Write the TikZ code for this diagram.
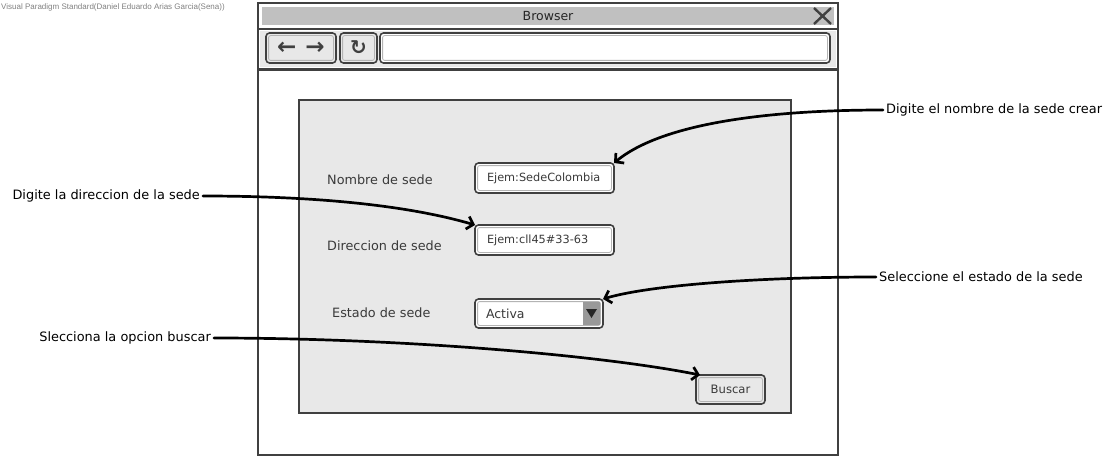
\documentclass[tikz,border=0pt]{standalone}
\usepackage{fontspec}
\setmainfont{DejaVu Sans}
\newfontfamily\wmfont{Liberation Sans}
\usetikzlibrary{positioning}
\usetikzlibrary{arrows.meta}
\definecolor{frameline}{HTML}{404040}
\definecolor{titlegray}{HTML}{C0C0C0}
\definecolor{panelgray}{HTML}{E8E8E8}
\definecolor{insetgray}{HTML}{B4B4B4}
\definecolor{labeltext}{HTML}{3A3A3A}

\begin{document}
\begin{tikzpicture}[x=1pt,y=-1pt,
  caja/.style={draw=frameline,line width=1.6pt,rounded corners=3.5pt,fill=white,anchor=north west,inner sep=0pt,outer sep=0pt},
  campo/.style={caja,minimum width=139pt,minimum height=30pt,text width=115pt,align=left,font=\fontsize{11.3}{13}\selectfont,text=labeltext},
  etiqueta/.style={anchor=west,inner sep=0pt,text=labeltext,font=\fontsize{12.8}{15}\selectfont},
  nota/.style={inner sep=3pt,font=\fontsize{12.9}{15}\selectfont},
  flecha/.style={line width=2.7pt,line cap=round,-{Straight Barb[length=6pt,width=13pt]}},
  borde/.style={draw=insetgray,line width=0.8pt,rounded corners=2pt}]
  \useasboundingbox (0,0) rectangle (1118,460);
					% browser window
					\fill[white] (258,3) rectangle (838,455);
					\fill[titlegray] (262,7) rectangle (834,25);
					\fill[panelgray] (260,31) rectangle (836,67);
					\draw[frameline,line width=2pt] (258,29) -- (838,29);
					\draw[frameline,line width=3pt] (258,69) -- (838,69);
					\draw[frameline,line width=2.6pt] (258,3) rectangle (838,455);
					\draw[frameline,line width=2.4pt] (814,8) -- (831,24) (814,24) -- (831,8);
					\node[inner sep=0pt,text=black!85,font=\fontsize{12.5}{14}\selectfont] (titulo) at (548,16) {Browser};
					\node[caja,fill=panelgray,minimum width=70pt,minimum height=30pt,text=frameline,font=\bfseries\fontsize{23}{25}\selectfont] (nav) at (266,33) {←\kern9pt→};
					\node[caja,fill=panelgray,minimum width=37pt,minimum height=30pt,text=frameline,font=\bfseries\fontsize{20}{22}\selectfont] (refresh) at (340,33) {↻};
					\node[caja,minimum width=450pt,minimum height=30pt] (address) at (380,33) {};
					% form
					\draw[frameline,line width=2pt,fill=panelgray] (299,100) rectangle (791,413);
					\node[etiqueta] (lnombre) at (327,180) {Nombre de sede};
					\node[etiqueta] (ldireccion) at (327,246) {Direccion de sede};
					\node[etiqueta] (lestado) at (332,313) {Estado de sede};
					\node[campo] (nombre) at (475,163) {Ejem:SedeColombia};
					\node[campo] (direccion) at (475,225) {Ejem:cll45\#33-63};
					\node[campo,minimum width=128pt,minimum height=29pt,text width=106pt,font=\fontsize{12.5}{14}\selectfont] (estado) at (475,299) {Activa};
					\node[caja,fill=panelgray,minimum width=69pt,minimum height=29pt,text=labeltext,font=\fontsize{11.6}{13}\selectfont] (buscar) at (696,375) {Buscar};
					\foreach \c in {nav,refresh,address,nombre,direccion,estado,buscar}
						\draw[borde] ([shift={(2.6,2.6)}]\c.north west) rectangle ([shift={(-2.6,-2.6)}]\c.south east);
					\fill[black!40] ([shift={(-20,3)}]estado.north east) rectangle ([shift={(-3,-3)}]estado.south east);
					\fill[black!85] ([shift={(-17,10)}]estado.north east) -- ++(11,0) -- ++(-5.5,9) -- cycle;
					% notes
					\node[anchor=west,inner sep=0pt,text=gray,font=\wmfont\fontsize{8}{9}\selectfont] (marca) at (1,7) {Visual Paradigm Standard(Daniel Eduardo Arias Garcia(Sena))};
					\node[nota,anchor=west] (notanombre) at (883,110) {Digite el nombre de la sede crear};
					\node[nota,anchor=east] (notadireccion) at (203,196) {Digite la direccion de la sede};
					\node[nota,anchor=west] (notaestado) at (876,277) {Seleccione el estado de la sede};
					\node[nota,anchor=east] (notabuscar) at (214,338) {Slecciona la opcion buscar};
					\draw[flecha] (notanombre.west) .. controls (760,110) and (660,125) .. (nombre.north east);
					\draw[flecha] (notadireccion.east) .. controls (300,196) and (400,203) .. (direccion.north west);
					\draw[flecha] (notaestado.west) .. controls (760,277) and (650,285) .. (estado.north east);
					\draw[flecha] (notabuscar.east) .. controls (400,338) and (600,355) .. ([xshift=4pt]buscar.north west);
				\end{tikzpicture}
\end{document}
